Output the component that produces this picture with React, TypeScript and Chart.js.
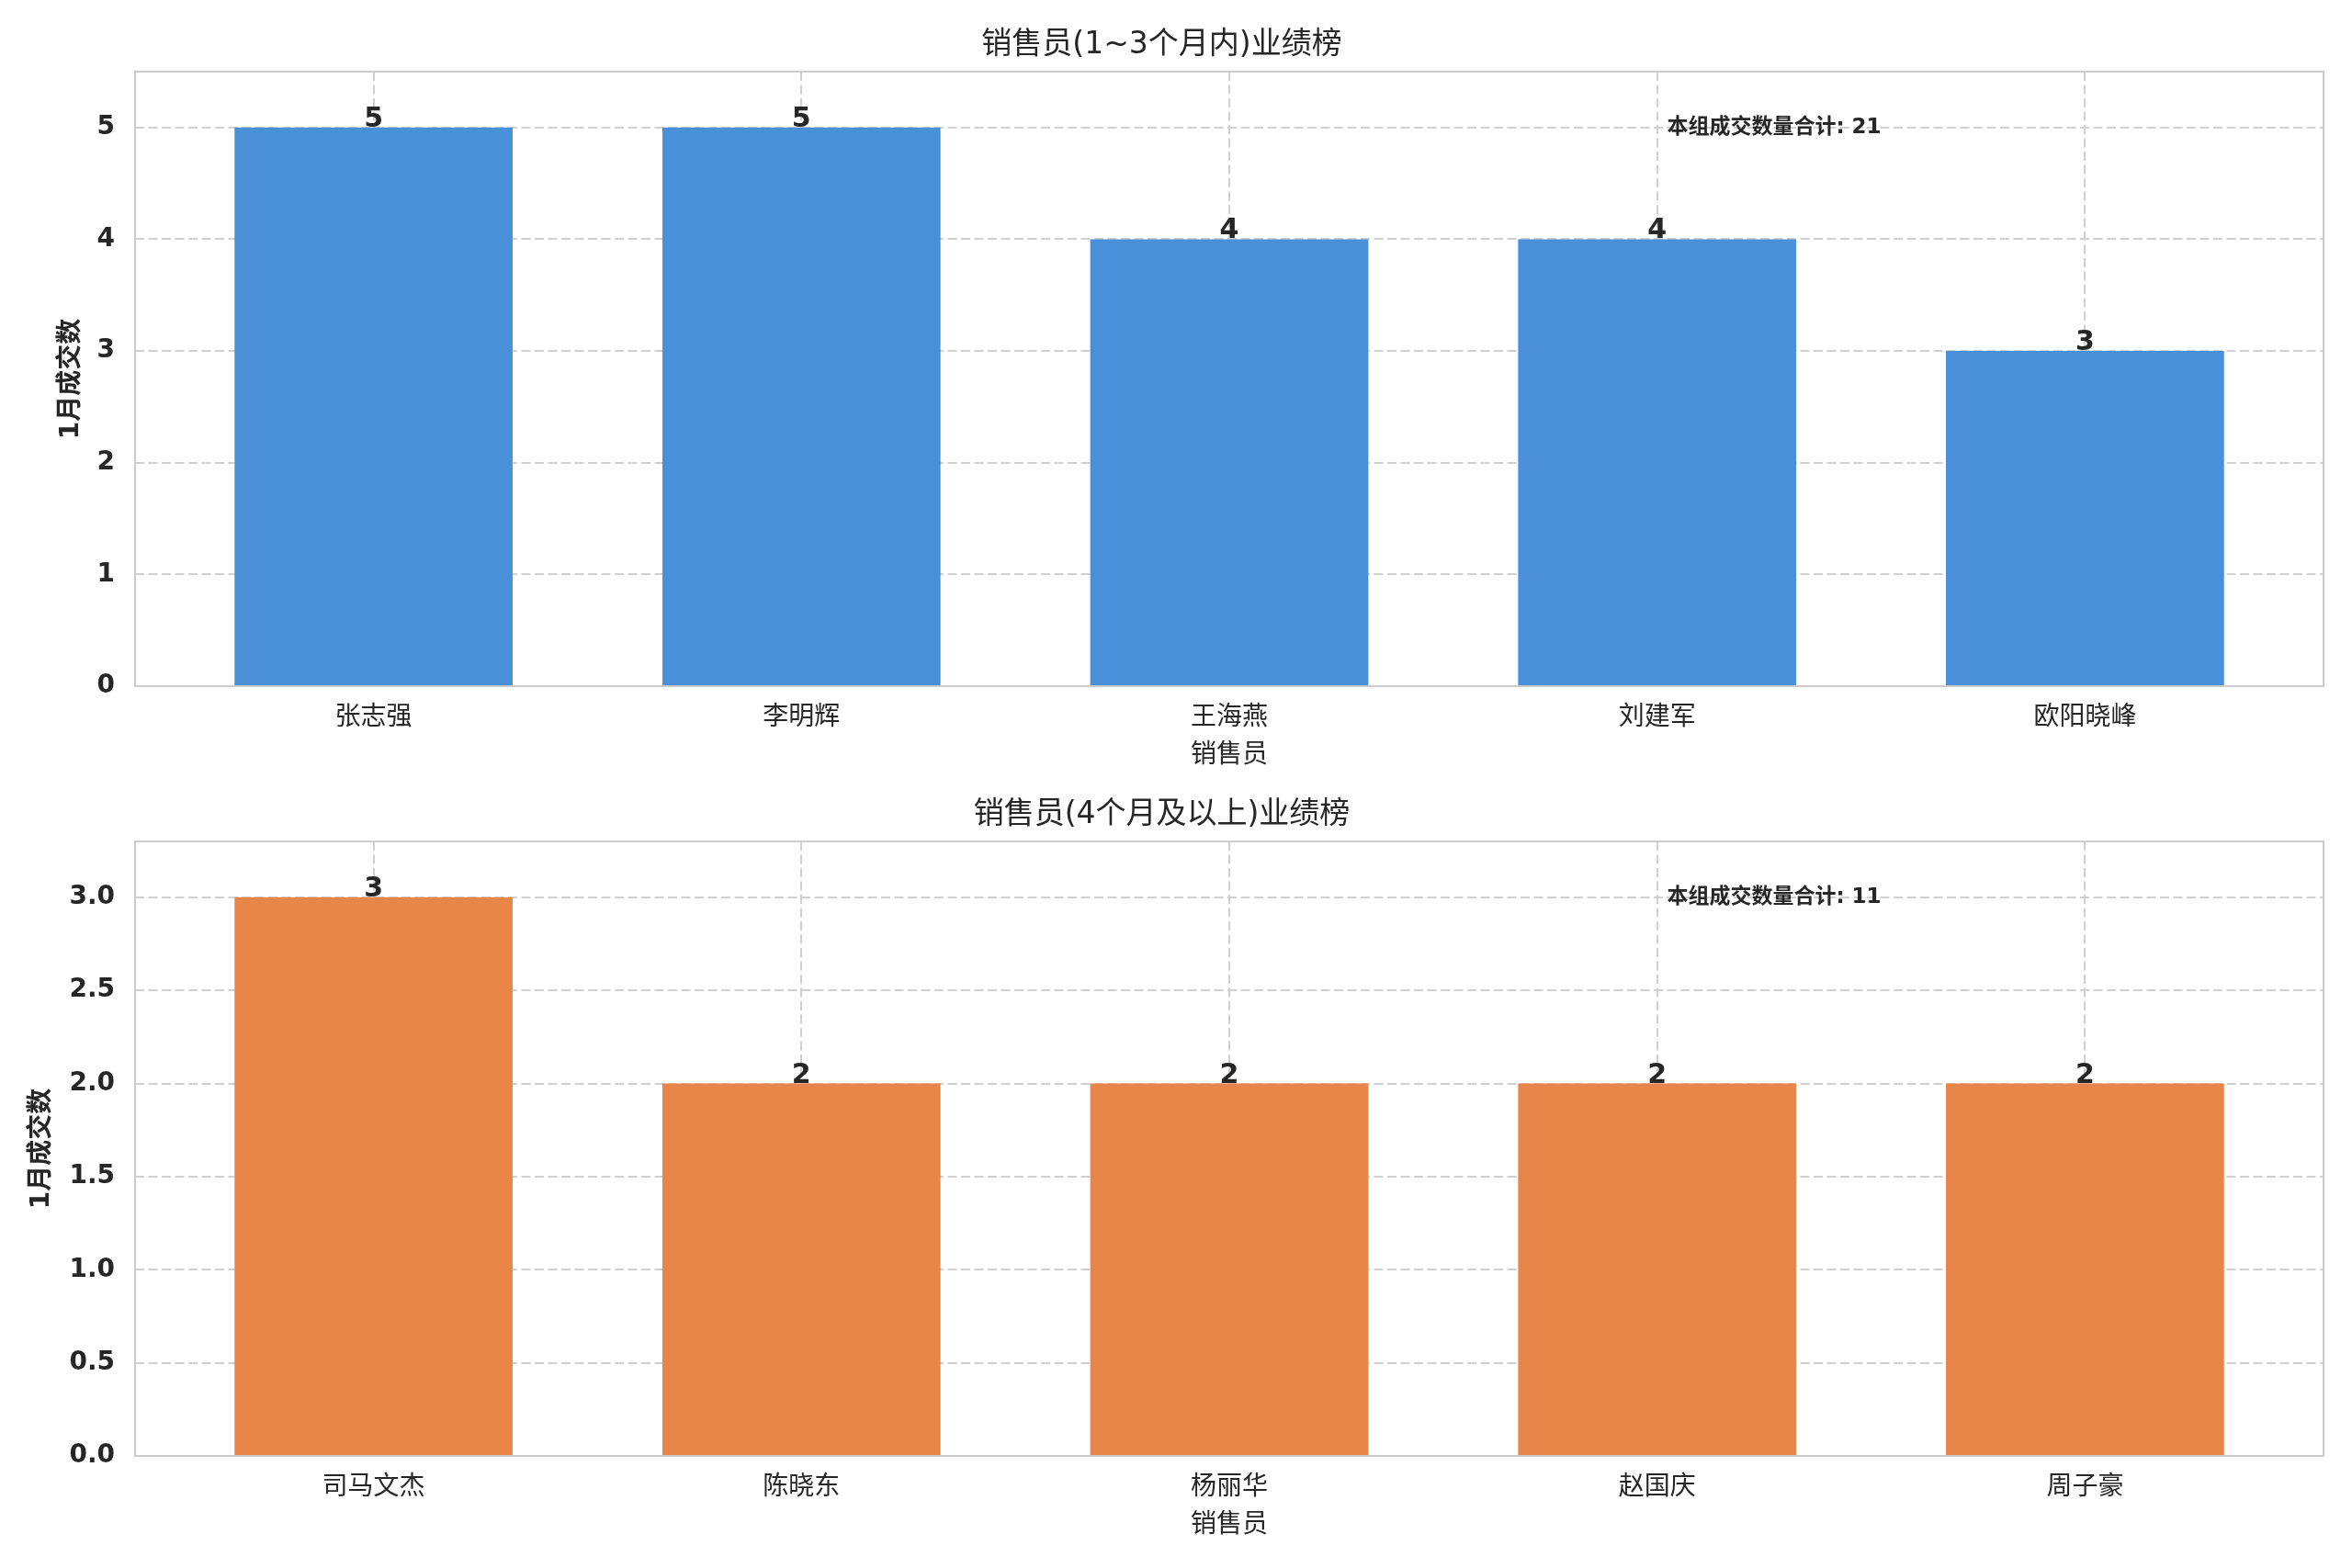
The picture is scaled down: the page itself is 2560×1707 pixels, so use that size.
import React, { useEffect, useRef } from "react";
import { Chart, registerables } from "chart.js";

Chart.register(...registerables);

const FONT = "'DejaVu Sans', 'Noto Sans CJK SC', sans-serif";
const TEXT = "#262626";
const GRID = "#d0d0d0";

// 1~3个月内
const shortNames = ["张志强", "李明辉", "王海燕", "刘建军", "欧阳晓峰"];
const shortCounts = [5, 5, 4, 4, 3];
const shortYTicks = [0, 1, 2, 3, 4, 5];

// 4个月及以上
const longNames = ["司马文杰", "陈晓东", "杨丽华", "赵国庆", "周子豪"];
const longCounts = [3, 2, 2, 2, 2];
const longYTicks = [0, 0.5, 1, 1.5, 2, 2.5, 3];

const xTitle = "销售员";
const yTitle = "1月成交数";
const notePrefix = "本组成交数量合计";

type PanelProps = {
    title: string;
    names: string[];
    counts: number[];
    yTicks: number[];
    color: string;
    decimals: number;
    yTitlePad: number;
};

const decorPlugin = {
    id: "decor",
    afterDatasetsDraw(chart: any, _args: any, opts: any) {
        const { ctx, chartArea: a } = chart;
        const w = a.right - a.left;
        const h = a.bottom - a.top;
        ctx.save();
        // frame on all four sides, like the seaborn spines
        ctx.strokeStyle = "#cccccc";
        ctx.lineWidth = 2;
        ctx.setLineDash([]);
        ctx.strokeRect(a.left, a.top, w, h);

        // value above each bar
        const meta = chart.getDatasetMeta(0);
        const data = chart.data.datasets[0].data;
        ctx.fillStyle = TEXT;
        ctx.font = `bold 30px ${FONT}`;
        ctx.textAlign = "center";
        ctx.textBaseline = "alphabetic";
        meta.data.forEach((bar: any, i: number) => {
            ctx.fillText(String(data[i].y), bar.x, bar.y - 1);
        });

        // total note
        ctx.font = `bold 23px ${FONT}`;
        ctx.textAlign = "left";
        ctx.fillText(opts.note, a.left + 0.7 * w, a.top + 0.1 * h);
        ctx.restore();
    },
};

function Panel({ title, names, counts, yTicks, color, decimals, yTitlePad }: PanelProps) {
    const canvasRef = useRef<HTMLCanvasElement | null>(null);

    useEffect(() => {
        if (!canvasRef.current) return;
        const total = counts.reduce((s, v) => s + v, 0);
        const yMax = Math.max(...counts) * 1.1;
        // matplotlib bar width 0.65 with 5% margins
        const half = 0.325 + 0.05 * (names.length - 1 + 0.65);

        const chart = new Chart(canvasRef.current, {
            type: "bar",
            data: {
                datasets: [{
                    data: counts.map((v, i) => ({ x: i, y: v })),
                    backgroundColor: color,
                    borderWidth: 0,
                    barPercentage: 0.65,
                    categoryPercentage: 1,
                }],
            },
            plugins: [decorPlugin],
            options: {
                animation: false,
                responsive: false,
                devicePixelRatio: 1,
                layout: { padding: { left: 0, right: 31, top: 0, bottom: 0 } },
                plugins: {
                    legend: { display: false },
                    tooltip: { enabled: false },
                    title: {
                        display: true,
                        text: title,
                        color: TEXT,
                        font: { family: FONT, size: 33, weight: "normal" },
                        padding: { top: 29.2, bottom: 9.2 },
                    },
                    // @ts-ignore
                    decor: { note: `${notePrefix}: ${total}` },
                },
                scales: {
                    x: {
                        type: "linear",
                        min: -half,
                        max: names.length - 1 + half,
                        bounds: "data",
                        offset: false,
                        afterBuildTicks: (s: any) => {
                            s.ticks = names.map((_, i) => ({ value: i }));
                        },
                        afterFit: (s: any) => {
                            s.height = 107;
                        },
                        ticks: {
                            callback: (v: any) => names[v],
                            color: TEXT,
                            font: { family: FONT, size: 28 },
                            padding: 18,
                            maxRotation: 0,
                            autoSkip: false,
                        },
                        grid: { color: GRID, lineWidth: 2, drawTicks: false, offset: false },
                        border: { display: false, dash: [10, 4.5] },
                        title: {
                            display: true,
                            text: xTitle,
                            color: TEXT,
                            font: { family: FONT, size: 28 },
                            padding: { top: 0, bottom: 14.2 },
                        },
                    },
                    y: {
                        type: "linear",
                        min: 0,
                        max: yMax,
                        bounds: "data",
                        afterBuildTicks: (s: any) => {
                            s.ticks = yTicks.map((v) => ({ value: v }));
                        },
                        afterFit: (s: any) => {
                            s.width = 147;
                        },
                        ticks: {
                            callback: (v: any) => Number(v).toFixed(decimals),
                            color: TEXT,
                            font: { family: FONT, size: 28, weight: "bold" },
                            padding: 22,
                        },
                        grid: { color: GRID, lineWidth: 2, drawTicks: false },
                        border: { display: false, dash: [10, 4.5] },
                        title: {
                            display: true,
                            text: yTitle,
                            color: TEXT,
                            font: { family: FONT, size: 28, weight: "bold" },
                            padding: { top: yTitlePad, bottom: 0 },
                        },
                    },
                },
            },
        } as any);

        return () => chart.destroy();
    }, [title, names, counts, yTicks, color, decimals, yTitlePad]);

    return <canvas ref={canvasRef} width={2560} height={854} style={{ display: "block" }} />;
}

export default function App() {
    return (
        <div style={{ position: "absolute", left: 0, top: 0, width: 2560, height: 1707, background: "#ffffff" }}>
            <div style={{ position: "absolute", left: 0, top: 0 }}>
                <Panel
                    title="销售员(1~3个月内)业绩榜"
                    names={shortNames}
                    counts={shortCounts}
                    yTicks={shortYTicks}
                    color="#4a90d9"
                    decimals={0}
                    yTitlePad={61}
                />
            </div>
            <div style={{ position: "absolute", left: 0, top: 838 }}>
                <Panel
                    title="销售员(4个月及以上)业绩榜"
                    names={longNames}
                    counts={longCounts}
                    yTicks={longYTicks}
                    color="#e8864a"
                    decimals={1}
                    yTitlePad={29}
                />
            </div>
        </div>
    );
}
